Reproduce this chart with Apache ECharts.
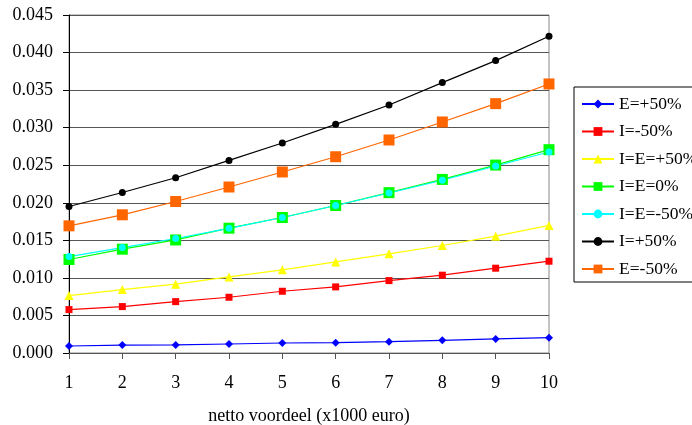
<!DOCTYPE html>
<html><head><meta charset="utf-8">
<script src="https://cdn.jsdelivr.net/npm/echarts@6/dist/echarts.min.js"></script>
<style>html,body{margin:0;padding:0;background:#fff}#c{width:692px;height:425px}</style>
</head><body><div id="c"></div>
<script>
const categories = ['1','2','3','4','5','6','7','8','9','10'];
const yTicks = ['0.000','0.005','0.010','0.015','0.020','0.025','0.030','0.035','0.040','0.045'];
const xTitle = 'netto voordeel (x1000 euro)';
const names = ['E=+50%','I=-50%','I=E=+50%','I=E=0%','I=E=-50%','I=+50%','E=-50%'];
const E_plus50 = [0.00093,0.00105,0.00107,0.0012,0.00133,0.00138,0.00151,0.00169,0.00187,0.00204];
const I_min50 = [0.00578,0.00618,0.00684,0.00742,0.00822,0.0088,0.00964,0.01036,0.01129,0.01222];
const IE_plus50 = [0.00764,0.00844,0.00916,0.01013,0.01107,0.01213,0.0132,0.01431,0.01556,0.01698];
const IE_0 = [0.01245,0.01382,0.01505,0.01662,0.01804,0.01964,0.02135,0.02311,0.02502,0.02707];
const IE_min50 = [0.01284,0.01404,0.01524,0.0166,0.01804,0.01964,0.0213,0.023,0.0249,0.02676];
const I_plus50 = [0.0195,0.02137,0.02333,0.02564,0.02796,0.03044,0.03302,0.036,0.03893,0.04217];
const E_min50 = [0.01693,0.0184,0.02017,0.0221,0.0241,0.02613,0.02836,0.03076,0.0332,0.03582];

const font = 'Liberation Serif';
const styles = [
  {c:'#0000ff', s:'diamond', z:8},
  {c:'#ff0000', s:'rect', z:7},
  {c:'#ffff00', s:'triangle', z:9},
  {c:'#00ff00', s:'rect', z:11},
  {c:'#00ffff', s:'circle', z:7},
  {c:'#000000', s:'circle', z:7},
  {c:'#ff6600', s:'rect', z:11}
];
const data = [E_plus50,I_min50,IE_plus50,IE_0,IE_min50,I_plus50,E_min50];
const series = names.map((n,i)=>({
  name:n, type:'line', data:data[i], symbol:styles[i].s, symbolSize:styles[i].z,
  lineStyle:{color:styles[i].c, width:1.2}, itemStyle:{color:styles[i].c},
  animation:false
}));
const chart = echarts.init(document.getElementById('c'));
chart.setOption({
  animation:false,
  grid:{left:69,right:143,top:15,bottom:72,containLabel:false,outerBoundsMode:'none',
    show:true,borderColor:'#888',borderWidth:1},
  xAxis:{type:'category',data:categories,boundaryGap:false,
    axisLine:{lineStyle:{color:'#555'}},
    axisTick:{alignWithLabel:true,length:6,lineStyle:{color:'#555'}},
    axisLabel:{fontFamily:font,fontSize:18,color:'#000',margin:21},
    name:xTitle,nameLocation:'middle',nameGap:54,
    nameTextStyle:{fontFamily:font,fontSize:18,color:'#000'}},
  yAxis:{type:'value',min:0,max:0.045,interval:0.005,
    axisLine:{show:true,lineStyle:{color:'#000'}},
    axisTick:{show:true,length:6,lineStyle:{color:'#000'}},
    splitLine:{lineStyle:{color:'#555'}},
    axisLabel:{fontFamily:font,fontSize:18,color:'#000',margin:16,
      formatter:(v)=>yTicks[Math.round(v/0.005)]}},
  legend:{orient:'vertical',left:574,top:87,itemGap:9.5,itemWidth:32,itemHeight:11,
    borderColor:'#000',borderWidth:1,padding:[8,40,4,7],
    textStyle:{fontFamily:font,fontSize:17.5,color:'#000'},
    data:names},
  series:series
});
</script></body></html>
